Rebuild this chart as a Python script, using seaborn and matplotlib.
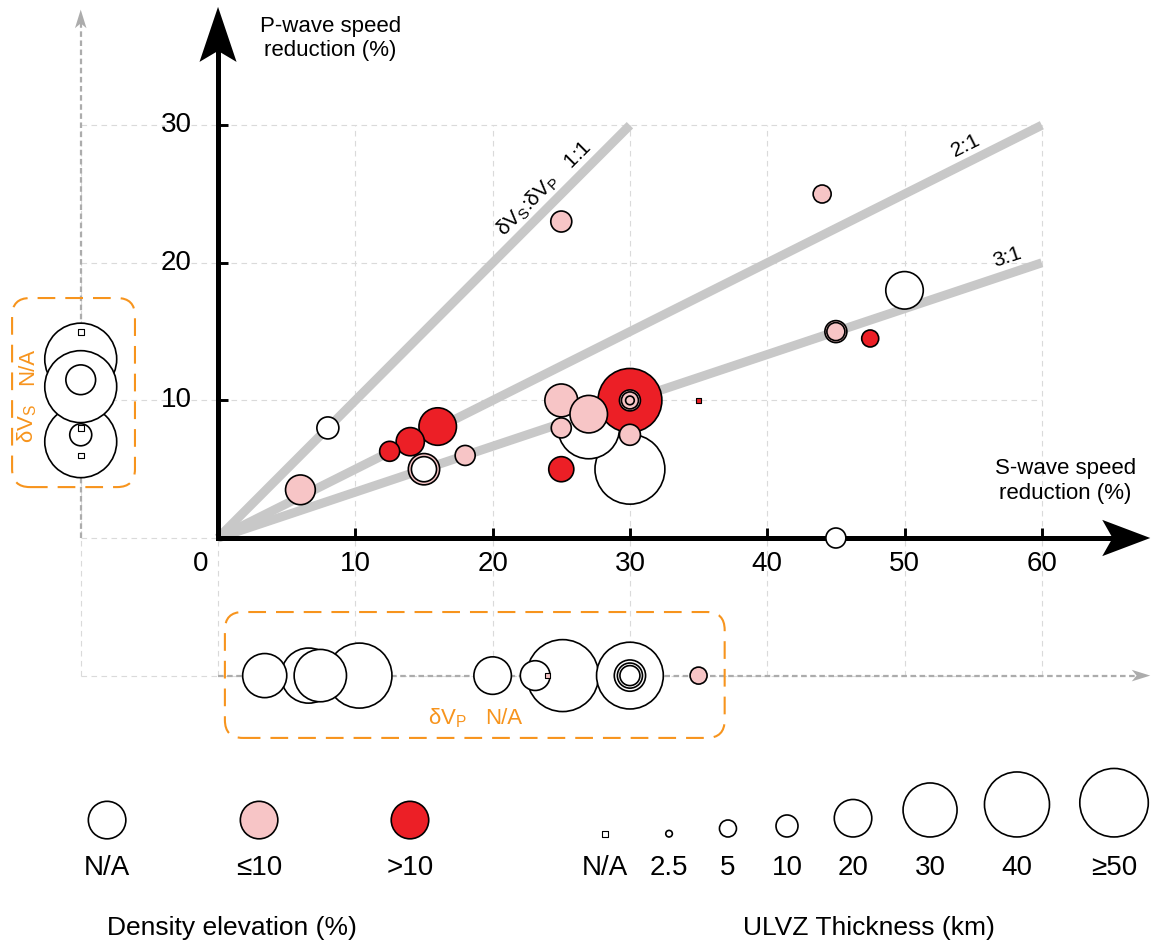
import numpy as np
import pandas as pd
import matplotlib
matplotlib.use("Agg")
import matplotlib.pyplot as plt
from matplotlib.patches import Polygon, FancyBboxPatch
import seaborn as sns

# ---------------------------------------------------------------------------
# ULVZ observations: S- and P-wave speed reduction (%), density elevation
# class and ULVZ thickness (km).  NaN speed reduction = not constrained
# (drawn on the N/A guide line); NaN thickness = not constrained (square).
# Rows are listed in drawing order (back to front).
# ---------------------------------------------------------------------------
dvs = [np.nan, np.nan, np.nan, np.nan, np.nan, np.nan, np.nan, np.nan,
       10.3, 6.6, 7.45, 3.4, 25.1, 23.1, 20, 30, 30, 30, 30, 35, 24,
       30, 27, 30, 25, 27, 25, 30, 30, 30, 30, 25,
       50, 16, 15, 15, 6, 14, 8, 45, 45, 25, 18, 12.5, 44, 47.5, 45, 35]
dvp = [13, 7, 11, 11.5, 7.5, 15, 8, 6,
       np.nan, np.nan, np.nan, np.nan, np.nan, np.nan, np.nan, np.nan, np.nan,
       np.nan, np.nan, np.nan, np.nan,
       5, 8, 10, 10, 9, 8, 7.5, 10, 10, 10, 5,
       18, 8.1, 5, 5, 3.5, 7, 8, 15, 15, 23, 6, 6.3, 25, 14.5, 0, 10]
density = ["N/A", "N/A", "N/A", "N/A", "N/A", "N/A", "N/A", "N/A",
           "N/A", "N/A", "N/A", "N/A", "N/A", "N/A", "N/A", "N/A", "N/A",
           "N/A", "N/A", "≤10", "≤10",
           "N/A", "N/A", ">10", "≤10", "≤10", "≤10", "≤10", "≤10", "≤10", "≤10", ">10",
           "N/A", ">10", "≤10", "N/A", "≤10", ">10", "N/A", "≤10", "≤10", "≤10",
           "≤10", ">10", "≤10", ">10", "N/A", ">10"]
thickness = [65, 65, 65, 15, 10, np.nan, np.nan, np.nan,
             40, 31, 29, 24, 65, 15, 20, 45, 16, 12, 8, 5, np.nan,
             56, 37, 39, 17, 20, 8, 9, 9, 5, 3, 12,
             20, 20, 16, 12, 15, 14, 10, 10, 6, 9, 8, 8, 6, 5, 8, np.nan]

# speed-reduction ratio reference lines dVs:dVp
ratio_labels = ["1:1", "2:1", "3:1"]
ratios = [1, 2, 3]
ratio_end_s = [30, 60, 60]

# axis ticks
x_ticks = [0, 10, 20, 30, 40, 50, 60]
y_ticks = [10, 20, 30]

# legends
density_levels = ["N/A", "≤10", ">10"]
legend_thick = [np.nan, 2.5, 5, 10, 20, 30, 40, 50]
legend_thick_labels = ["N/A", "2.5", "5", "10", "20", "30", "40", "≥50"]

# ---------------------------------------------------------------------------
# styling
# ---------------------------------------------------------------------------
sns.set_style("white")
plt.rcParams["font.family"] = ["Liberation Sans", "DejaVu Sans"]
plt.rcParams["mathtext.fontset"] = "custom"
plt.rcParams["mathtext.rm"] = "Liberation Sans"
plt.rcParams["text.color"] = "black"

RED = "#ec1f26"
PINK = "#f7c5c6"
ORANGE = "#f7941d"
RATIO_GREY = "#c8c8c8"
GRID_GREY = "#dadada"
AUX_GREY = "#acacac"
palette = {"N/A": "white", "≤10": PINK, ">10": RED}

DPI = 100
PX = 13.745          # pixels per data unit
NA_POS = -10         # where unconstrained reductions are placed

# thickness (km) -> marker diameter (px)
SIZE_T = [0, 2.5, 5, 10, 20, 30, 40, 50, 100]
SIZE_D = [4, 6.6, 17, 22, 37.5, 54, 65, 68.5, 80]


def marker_area(t):
    d_pt = np.interp(t, SIZE_T, SIZE_D) * 72 / DPI
    return d_pt ** 2


AREA_RANGE = (marker_area(SIZE_T[0]), marker_area(SIZE_T[-1]))
SQUARE_AREA = (5.8 * 72 / DPI) ** 2

df = pd.DataFrame({"dvs": dvs, "dvp": dvp, "density": density,
                   "thickness": thickness})
df["x"] = df["dvs"].fillna(NA_POS)
df["y"] = df["dvp"].fillna(NA_POS)
df["area"] = marker_area(df["thickness"].fillna(0))

fig = plt.figure(figsize=(11.61, 9.49), dpi=DPI)
ax = fig.add_axes([0, 0, 1, 1])


def draw_points(frame, z, lw=1.2):
    circles = frame[frame["thickness"].notna()]
    squares = frame[frame["thickness"].isna()]
    if len(circles):
        sns.scatterplot(data=circles, x="x", y="y", hue="density",
                        hue_order=density_levels, palette=palette,
                        size="area", sizes=AREA_RANGE, size_norm=AREA_RANGE,
                        marker="o", edgecolor="black", linewidth=lw,
                        legend=False, ax=ax, zorder=z)
    if len(squares):
        sns.scatterplot(data=squares, x="x", y="y", hue="density",
                        hue_order=density_levels, palette=palette,
                        marker="s", s=SQUARE_AREA, edgecolor="black",
                        linewidth=0.8, legend=False, ax=ax, zorder=z + 1)


# --- dashed grid ------------------------------------------------------------
grid_x = [NA_POS] + x_ticks
grid_y = [NA_POS, 0] + y_ticks
ax.vlines(grid_x, NA_POS, y_ticks[-1], colors=GRID_GREY, lw=0.8,
          linestyles=(0, (5, 4)), zorder=1)
ax.hlines(grid_y, NA_POS, x_ticks[-1], colors=GRID_GREY, lw=0.8,
          linestyles=(0, (5, 4)), zorder=1)

# --- N/A guide axes -----------------------------------------------------------
aux_tip_y, aux_tip_x = 38.4, 67.9
ax.plot([NA_POS, NA_POS], [0, aux_tip_y - 1.0], color=AUX_GREY, lw=1.6,
        ls=(0, (2.5, 1.6)), zorder=1.5)
ax.plot([0, aux_tip_x - 1.0], [NA_POS, NA_POS], color=AUX_GREY, lw=1.6,
        ls=(0, (2.5, 1.6)), zorder=1.5)


def arrow_head(tip, direction, length, half_w, notch, color, z):
    d = np.asarray(direction, float)
    n = np.array([-d[1], d[0]])
    tip = np.asarray(tip, float)
    base = tip - d * length
    pts = [tip, base + n * half_w, tip - d * (length - notch), base - n * half_w]
    ax.add_patch(Polygon(pts, closed=True, fc=color, ec="none", zorder=z))


arrow_head((NA_POS, aux_tip_y), (0, 1), 1.35, 0.42, 0.35, AUX_GREY, 1.6)
arrow_head((aux_tip_x, NA_POS), (1, 0), 1.35, 0.42, 0.35, AUX_GREY, 1.6)

# --- N/A boxes ---------------------------------------------------------------
for (x0, y0, w, h) in [(-15.0, 3.7, 8.95, 13.74), (0.5, -14.53, 36.4, 9.15)]:
    ax.add_patch(FancyBboxPatch((x0, y0), w, h,
                                boxstyle="round,pad=0,rounding_size=1.3",
                                fill=False, ec=ORANGE, lw=1.5,
                                ls=(0, (8.5, 4.8)), zorder=2))
ax.text(-13.9, 12.45, "N/A", color=ORANGE, fontsize=16, rotation=90,
        ha="center", va="center", zorder=6)
ax.text(-13.9, 8.3, "δV$_\\mathregular{S}$", color=ORANGE, fontsize=16,
        rotation=90, ha="center", va="center", zorder=6)
ax.text(16.7, -13.1, "δV$_\\mathregular{P}$", color=ORANGE, fontsize=16,
        ha="center", va="center", zorder=6)
ax.text(20.8, -13.1, "N/A", color=ORANGE, fontsize=16,
        ha="center", va="center", zorder=6)

# --- ratio reference lines -------------------------------------------------
label_foot = [24.55, 54.92, 57.85]
for lab, r, s_end, s_lab in zip(ratio_labels, ratios, ratio_end_s, label_foot):
    ax.plot([0, s_end], [0, s_end / r], color=RATIO_GREY, lw=6.5,
            solid_capstyle="butt", zorder=2.5)
    ang = np.arctan2(1, r)
    nx, ny = -np.sin(ang), np.cos(ang)
    off = 1.15
    text = lab
    if r == 1:
        text = "δV$_\\mathregular{S}$:δV$_\\mathregular{P}$   " + lab
    ax.text(s_lab + nx * off, s_lab / r + ny * off, text, fontsize=15,
            rotation=np.degrees(ang), rotation_mode="anchor",
            ha="center", va="center", zorder=6)

# --- main axes with arrows ---------------------------------------------------
tip_x, tip_y = 67.9, 38.6
ax.plot([0, 0, tip_x - 2.5], [tip_y - 2.5, 0, 0], color="black", lw=3.6,
        solid_joinstyle="miter", solid_capstyle="butt", zorder=4)
arrow_head((tip_x, 0), (1, 0), 3.5, 1.32, 0.75, "black", 4.1)
arrow_head((0, tip_y), (0, 1), 4.0, 1.35, 0.8, "black", 4.1)
ax.vlines(x_ticks[1:], 0, 0.75, colors="black", lw=2.1, zorder=4)
ax.hlines(y_ticks, 0, 0.75, colors="black", lw=2.1, zorder=4)

for xt in x_ticks:
    ax.text(xt - (1.3 if xt == 0 else 0), -1.9, str(xt), fontsize=20,
            ha="center", va="center")
for yt in y_ticks:
    ax.text(-1.9, yt, str(yt), fontsize=20, ha="right", va="center")

ax.text(8.2, 36.3, "P-wave speed\nreduction (%)", fontsize=16,
        ha="center", va="center", multialignment="center", linespacing=1.2)
ax.text(61.7, 4.14, "S-wave speed\nreduction (%)", fontsize=16,
        ha="center", va="center", multialignment="center", linespacing=1.2)

# --- data points -------------------------------------------------------------
draw_points(df, z=5)

# --- density legend ------------------------------------------------------------
dens_x = [-8.08, 2.99, 13.98]
leg_d = pd.DataFrame({"x": dens_x, "y": [-20.5] * 3, "density": density_levels,
                      "thickness": [20] * 3})
leg_d["area"] = marker_area(leg_d["thickness"])
draw_points(leg_d, z=5)
for x, lab in zip(dens_x, density_levels):
    ax.text(x, -23.98, lab, fontsize=20, ha="center", va="center")
ax.text(1.0, -28.34, "Density elevation (%)", fontsize=19,
        ha="center", va="center")

# --- thickness legend ------------------------------------------------------------
size_x = [28.19, 32.85, 37.14, 41.44, 46.25, 51.86, 58.19, 65.26]
bottom = -21.73
diam_units = np.interp(np.nan_to_num(legend_thick, nan=0), SIZE_T, SIZE_D) / PX
size_y = [bottom + 0.2 if np.isnan(t) else bottom + d / 2
          for t, d in zip(legend_thick, diam_units)]
leg_s = pd.DataFrame({"x": size_x, "y": size_y, "density": "N/A",
                      "thickness": legend_thick})
leg_s["area"] = marker_area(leg_s["thickness"].fillna(0))
draw_points(leg_s, z=5)
for x, lab in zip(size_x, legend_thick_labels):
    ax.text(x, -23.98, lab, fontsize=20, ha="center", va="center")
ax.text(47.4, -28.34, "ULVZ Thickness (km)", fontsize=19,
        ha="center", va="center")

ax.set_xlim(-15.88, 68.68)
ax.set_ylim(-29.87, 39.10)
ax.axis("off")

fig.savefig("out.png", dpi=DPI, facecolor="white")
